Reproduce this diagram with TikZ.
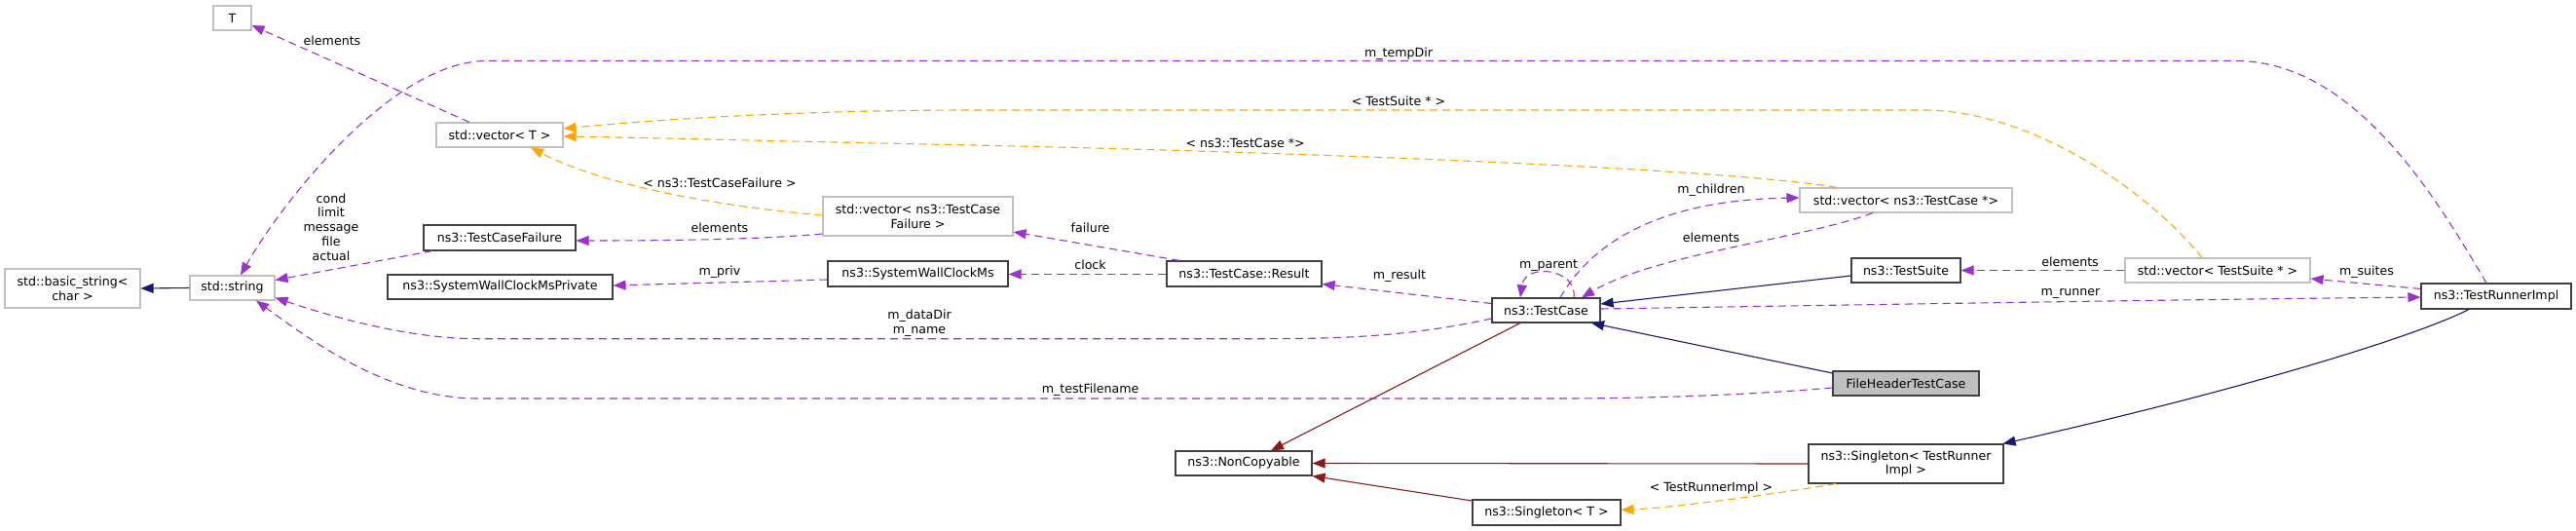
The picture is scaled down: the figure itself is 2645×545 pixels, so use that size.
\documentclass[tikz,border=0pt]{standalone}
\usepackage{fontspec}
\setmainfont{DejaVu Sans}
\usetikzlibrary{arrows.meta}
\definecolor{purp}{HTML}{9A32CD}
\definecolor{orng}{HTML}{FFA500}
\definecolor{navy}{HTML}{191970}
\definecolor{brick}{HTML}{8B1A1A}
\definecolor{gry}{HTML}{BFBFBF}
\definecolor{drk}{HTML}{404040}
\begin{document}
\begin{tikzpicture}[x=1pt,y=-1pt,
  every node/.style={font=\fontsize{12.6pt}{14.8pt}\selectfont, inner sep=0pt},
  gbox/.style={draw=gry, line width=1.1pt, fill=white, align=center},
  kbox/.style={draw=drk, line width=1.1pt, fill=white, align=center},
  lbl/.style={align=center},
  tipa/.style={-{Triangle[length=13pt,width=10pt]}},
  usee/.style={draw=purp, line width=1.1pt, dash pattern=on 8pt off 5pt, tipa},
  tmpl/.style={draw=orng, line width=1.1pt, dash pattern=on 8pt off 5pt, tipa},
  pubinh/.style={draw=navy, line width=1.1pt, tipa},
  privinh/.style={draw=brick, line width=1.1pt, tipa}]
\useasboundingbox[fill=white] (0,0) rectangle (2645,545);

% nodes
\node[gbox,minimum width=39pt,minimum height=25pt] (T) at (238.5,18.5) {T};
\node[gbox,minimum width=130pt,minimum height=25pt] (vecT) at (513,138.5) {std::vector< T >};
\node[gbox,minimum width=139pt,minimum height=40pt] (bstr) at (74.5,296) {std::basic\_string<\\char >};
\node[gbox,minimum width=87pt,minimum height=25pt] (sstr) at (238.5,295.5) {std::string};
\node[kbox,minimum width=156pt,minimum height=26pt] (tcf) at (513,244) {ns3::TestCaseFailure};
\node[kbox,minimum width=231pt,minimum height=25pt] (swcmp) at (513.5,294.5) {ns3::SystemWallClockMsPrivate};
\node[gbox,minimum width=195pt,minimum height=40pt] (vtcf) at (942.5,222) {std::vector< ns3::TestCase\\Failure >};
\node[kbox,minimum width=185pt,minimum height=26pt] (swcm) at (942.5,281) {ns3::SystemWallClockMs};
\node[kbox,minimum width=159pt,minimum height=26pt] (res) at (1277.5,281) {ns3::TestCase::Result};
\node[kbox,minimum width=111pt,minimum height=25pt] (tc) at (1587.5,318.5) {ns3::TestCase};
\node[gbox,minimum width=218pt,minimum height=25pt] (vtcp) at (1957,205.5) {std::vector< ns3::TestCase *>};
\node[kbox,minimum width=112pt,minimum height=25pt] (ts) at (1957,277.5) {ns3::TestSuite};
\node[gbox,minimum width=190pt,minimum height=25pt] (vts) at (2277,277.5) {std::vector< TestSuite * >};
\node[kbox,minimum width=154pt,minimum height=26pt] (tri) at (2563,304) {ns3::TestRunnerImpl};
\node[kbox,fill=gry,minimum width=150pt,minimum height=25pt] (fh) at (1957,393.5) {FileHeaderTestCase};
\node[kbox,minimum width=140pt,minimum height=25pt] (nc) at (1277,475.5) {ns3::NonCopyable};
\node[kbox,minimum width=200pt,minimum height=40pt] (str) at (1957,476) {ns3::Singleton< TestRunner\\Impl >};
\node[kbox,minimum width=152pt,minimum height=26pt] (st) at (1588,526) {ns3::Singleton< T >};

% edges
\draw[pubinh] (sstr.west) -- (bstr.east);
\draw[usee] ([xshift=-31pt]vecT.north) -- ([yshift=-7.5pt]T.east);
\node[lbl] (l1) at (341,42) {elements};
\draw[usee] ([xshift=-69pt]tcf.south) -- ([yshift=8pt]sstr.east);
\node[lbl] (l2) at (340,233) {cond\\limit\\message\\file\\actual};
\draw[usee] ([xshift=-10pt]tri.north) .. controls +(-48,-81) and +(124,0) .. (2296,62.5) -- (500,62.5) .. controls (400,62.5) and (285,215) .. ([xshift=8.5pt]sstr.north);
\node[lbl] (l3) at (1436,55) {m\_tempDir};
\draw[tmpl] ([xshift=-16pt]vts.north) .. controls +(-61,-75) and +(105,0) .. (1975,113) -- (1000,113) .. controls (800,113) and (650,125) .. ([yshift=6.5pt]vecT.east);
\node[lbl] (l4) at (1436,104) {< TestSuite * >};
\draw[tmpl] ([xshift=-71pt]vtcp.north) .. controls +(-106,-18) and +(400,9) .. (1000,149) .. controls (800,145) and (650,141) .. ([yshift=-1.5pt]vecT.east);
\node[lbl] (l5) at (1278.6,146.7) {< ns3::TestCase *>};
\draw[tmpl] ([yshift=1pt]vtcf.west) .. controls +(-105,-9) and +(75,39) .. ([xshift=32pt]vecT.south);
\node[lbl] (l6) at (739,188) {< ns3::TestCaseFailure >};
\draw[usee] ([yshift=-18pt]vtcf.west) .. controls +(-65,6) and +(90,0) .. ([yshift=-3pt]tcf.east);
\node[lbl] (l7) at (739,234) {elements};
\draw[usee] ([yshift=-6pt]swcm.west) -- ([yshift=1.5pt]swcmp.east);
\node[lbl] (l8) at (739,279) {m\_priv};
\draw[usee] ([yshift=-0.5pt]res.west) -- ([yshift=-0.5pt]swcm.east);
\node[lbl] (l9) at (1119.5,272) {clock};
\draw[usee] ([xshift=-66.5pt]res.north) -- ([yshift=-16pt]vtcf.east);
\node[lbl] (l10) at (1119.5,234) {failure};
\draw[usee] ([yshift=7pt]tc.west) -- ([yshift=-10.5pt]res.east);
\node[lbl] (l11) at (1437,283) {m\_result};
\draw[usee] ([xshift=28.5pt]tc.north) .. controls +(4,-30) and +(5,-36) .. ([xshift=-26.5pt]tc.north);
\node[lbl] (l12) at (1590,272.7) {m\_parent};
\draw[usee] ([xshift=14.5pt]tc.north) .. controls +(38,-66) and +(-128,2) .. ([yshift=2.5pt]vtcp.west);
\node[lbl] (l13) at (1757,195.7) {m\_children};
\draw[usee] ([xshift=-34pt]vtcp.south) .. controls +(-73,27) and +(76,-45) .. ([xshift=36.5pt]tc.north);
\node[lbl] (l14) at (1757,243.7) {elements};
\draw[pubinh] ([yshift=-5.5pt]ts.west) -- ([yshift=6.5pt]tc.east);
\draw[usee] (vts.west) -- (ts.east);
\node[lbl] (l15) at (2125.5,268.7) {elements};
\draw[usee] ([yshift=7.5pt]tri.west) -- ([yshift=-8.5pt]vts.east);
\node[lbl] (l16) at (2430,279) {m\_suites};
\draw[usee] ([yshift=1.5pt]tc.east) .. controls +(257,-4) and +(-286,3) .. ([yshift=-1pt]tri.west);
\node[lbl] (l17) at (2126,301) {m\_runner};
\draw[pubinh] ([yshift=10.5pt]fh.west) -- ([xshift=-9.5pt]tc.south east);
\draw[usee] ([yshift=-8.5pt]tc.west) .. controls +(-82,18) and +(80,0) .. (1300,347.7) -- (490,347.7) .. controls (420,347.7) and (340,325) .. ([yshift=-10pt]sstr.east);
\node[lbl] (l18) at (944,331.6) {m\_dataDir\\m\_name};
\draw[usee] ([yshift=-4.5pt]fh.west) .. controls +(-82,7) and +(100,0) .. (1600,409) -- (490,409) .. controls (400,409) and (320,350) .. ([xshift=24.5pt]sstr.south);
\node[lbl] (l19) at (1119.6,400) {m\_testFilename};
\draw[privinh] ([xshift=-26.5pt]tc.south) -- ([xshift=28pt]nc.north);
\draw[privinh] (str.west) -- (nc.east);
\draw[privinh] ([yshift=12pt]st.west) -- (nc.south east);
\draw[pubinh] ([xshift=-28pt]tri.south) .. controls +(-55,28) and +(244,-55) .. ([xshift=-1pt]str.north east);
\draw[tmpl] ([xshift=-72pt]str.south) .. controls +(-60,10) and +(60,-3) .. ([yshift=2.5pt]st.east);
\node[lbl] (l20) at (1757,500.7) {< TestRunnerImpl >};
\end{tikzpicture}
\end{document}
